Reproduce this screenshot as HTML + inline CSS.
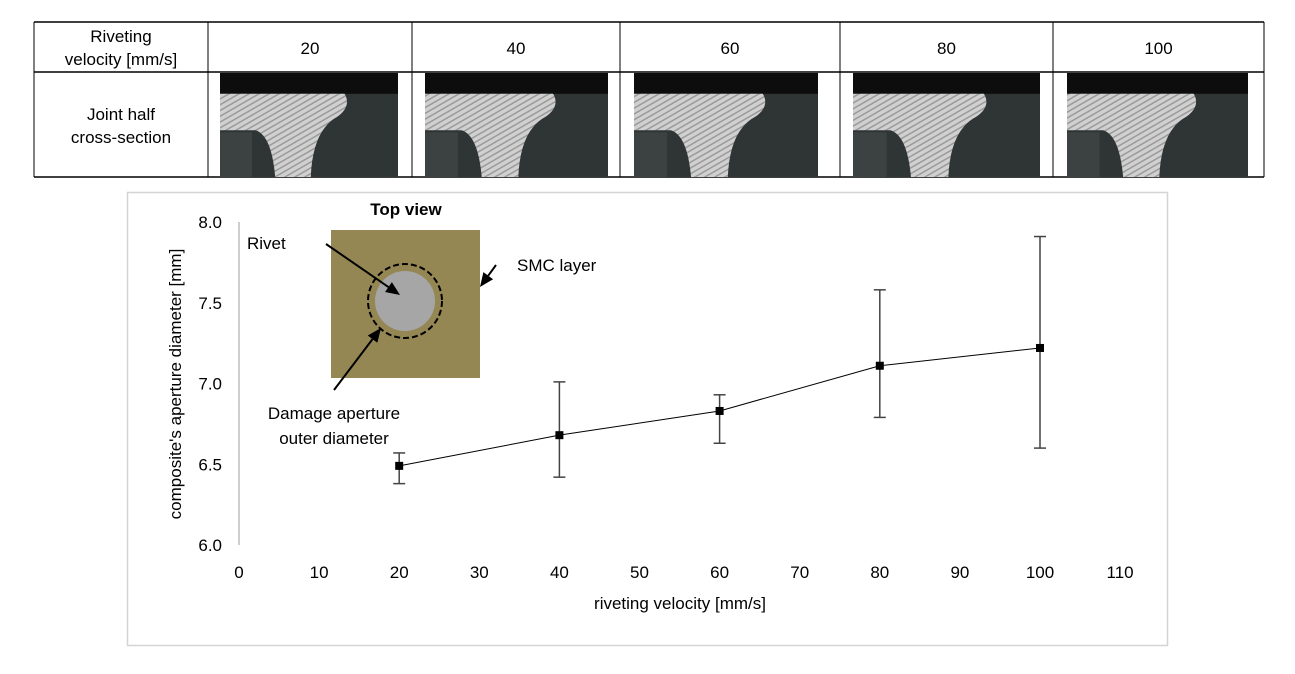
<!DOCTYPE html>
<html><head><meta charset="utf-8"><style>
body{margin:0;background:#fff;width:1295px;height:674px;overflow:hidden;font-family:"Liberation Sans",Arial,sans-serif}
svg{position:absolute;left:0;top:0}
</style></head><body>
<svg width="1295" height="674">
<defs>
<pattern id="metal" width="5" height="5" patternUnits="userSpaceOnUse" patternTransform="rotate(60)">
<rect width="5" height="5" fill="#d0d0d0"/><rect width="1.5" height="5" fill="#9a9a9a"/>
</pattern>
</defs>
<g id="table"></g>
<g id="chart"></g>
</svg>
<script>
const NS='http://www.w3.org/2000/svg';
function mk(parent,tag,attrs,text){const e=document.createElementNS(NS,tag);for(const k in attrs)e.setAttribute(k,attrs[k]);if(text!==undefined)e.textContent=text;parent.appendChild(e);return e;}

// ---- Table ----
const velocities=[20,40,60,80,100];
const tbl=document.getElementById('table');
const colX=[34,208,412,620,840,1053,1264];
const photoX=[[220,398],[425,608],[634,818],[853,1040],[1067,1248]];
[22,72,177].forEach(y=>{const l=mk(tbl,'line',{x1:34,x2:1264,y1:y,y2:y,stroke:'#000','stroke-width':1.5});});
colX.forEach(x=>{const l=mk(tbl,'line',{x1:x,x2:x,y1:22,y2:177,stroke:'#000','stroke-width':1});});
let t=mk(tbl,'text',{x:121,y:42,'text-anchor':'middle','font-size':17},'Riveting');

t=mk(tbl,'text',{x:121,y:65,'text-anchor':'middle','font-size':17},'velocity [mm/s]');

t=mk(tbl,'text',{x:121,y:120,'text-anchor':'middle','font-size':17},'Joint half');

t=mk(tbl,'text',{x:121,y:143,'text-anchor':'middle','font-size':17},'cross-section');

velocities.forEach((v,i)=>{
  const cx=(colX[i+1]+colX[i+2])/2;
  const h=mk(tbl,'text',{x:cx,y:54,'text-anchor':'middle','font-size':17},String(v));
  
  const [x0,x1]=photoX[i];const w=x1-x0,y0=73,y1=177,H=y1-y0;
  const g=mk(tbl,'g',{});
  
  mk(g,'rect',{x:x0,y:y0,width:w,height:H,fill:'#2f3434'});
  mk(g,'rect',{x:x0,y:y0,width:w,height:H*0.2,fill:'#0d0d0d'});
  mk(g,'path',{d:`M${x0},${y0+H*0.2} L${x0+w*0.7},${y0+H*0.2} Q${x0+w*0.74},${y0+H*0.32} ${x0+w*0.66},${y0+H*0.42} Q${x0+w*0.52},${y0+H*0.55} ${x0+w*0.51},${y1} L${x0+w*0.31},${y1} Q${x0+w*0.29},${y0+H*0.6} ${x0+w*0.2},${y0+H*0.55} L${x0},${y0+H*0.55} Z`,fill:'url(#metal)'});
  mk(g,'rect',{x:x0,y:y0+H*0.57,width:w*0.18,height:H*0.43,fill:'#3c4142'});
});

// ---- Chart ----
const xs=[20,40,60,80,100];
const means=[6.49,6.68,6.83,7.11,7.22];
const errLow=[6.38,6.42,6.63,6.79,6.60];
const errHigh=[6.57,7.01,6.93,7.58,7.91];
const xTicks=[0,10,20,30,40,50,60,70,80,90,100,110];
const yTicks=[6.0,6.5,7.0,7.5,8.0];
const ch=document.getElementById('chart');
const X=v=>239+v*8.01, Y=v=>545-(v-6)*161.5;
let r=mk(ch,'rect',{x:127.5,y:192.5,width:1040,height:453,fill:'none',stroke:'#d4d4d4','stroke-width':1.5});

let a=mk(ch,'line',{x1:239,x2:239,y1:Y(8),y2:545,stroke:'#bdbdbd','stroke-width':1.5});

yTicks.forEach(v=>{const e=mk(ch,'text',{x:222,y:Y(v)+6,'text-anchor':'end','font-size':17},v.toFixed(1));});
xTicks.forEach(v=>{const e=mk(ch,'text',{x:X(v),y:578,'text-anchor':'middle','font-size':17},String(v));});
let tt=mk(ch,'text',{x:680,y:609,'text-anchor':'middle','font-size':17},'riveting velocity [mm/s]');

tt=mk(ch,'text',{x:181,y:384,'text-anchor':'middle','font-size':17,transform:'rotate(-90 181 384)'},"composite's aperture diameter [mm]");

let pl=mk(ch,'polyline',{points:xs.map((x,i)=>X(x)+','+Y(means[i])).join(' '),fill:'none',stroke:'#000','stroke-width':1});

xs.forEach((x,i)=>{
  const g=mk(ch,'g',{stroke:'#444','stroke-width':1.5});
  
  mk(g,'line',{x1:X(x),x2:X(x),y1:Y(errLow[i]),y2:Y(errHigh[i])});
  mk(g,'line',{x1:X(x)-6,x2:X(x)+6,y1:Y(errLow[i]),y2:Y(errLow[i])});
  mk(g,'line',{x1:X(x)-6,x2:X(x)+6,y1:Y(errHigh[i]),y2:Y(errHigh[i])});
  const m=mk(ch,'rect',{x:X(x)-4,y:Y(means[i])-4,width:8,height:8,fill:'#000'});
  
});

// inset
const ins=mk(ch,'g',{});

let e=mk(ins,'text',{x:406,y:215,'text-anchor':'middle','font-size':17,'font-weight':'bold'},'Top view');

mk(ins,'rect',{x:331,y:230,width:149,height:148,fill:'#948753'});
mk(ins,'circle',{cx:405,cy:301,r:30,fill:'#a6a6a6'});
mk(ins,'circle',{cx:405,cy:301,r:37,fill:'none',stroke:'#000','stroke-width':2,'stroke-dasharray':'6,3'});
const arrows=[[326,244,400,295],[496,265,480,287],[334,390,381,328]];
arrows.forEach(([x1,y1,x2,y2])=>{
  const ang=Math.atan2(y2-y1,x2-x1),L=14,W=6;
  const bx=x2-L*Math.cos(ang),by=y2-L*Math.sin(ang);
  const ar=mk(ins,'g',{});
  mk(ar,'line',{x1,y1,x2:bx,y2:by,stroke:'#000','stroke-width':2});
  mk(ar,'polygon',{points:`${x2},${y2} ${bx+W*Math.sin(ang)},${by-W*Math.cos(ang)} ${bx-W*Math.sin(ang)},${by+W*Math.cos(ang)}`,fill:'#000'});
});
e=mk(ins,'text',{x:247,y:249,'font-size':17},'Rivet');
e=mk(ins,'text',{x:517,y:271,'font-size':17},'SMC layer');
e=mk(ins,'text',{x:334,y:419,'text-anchor':'middle','font-size':17},'Damage aperture');
e=mk(ins,'text',{x:334,y:444,'text-anchor':'middle','font-size':17},'outer diameter');
</script>
</body></html>
